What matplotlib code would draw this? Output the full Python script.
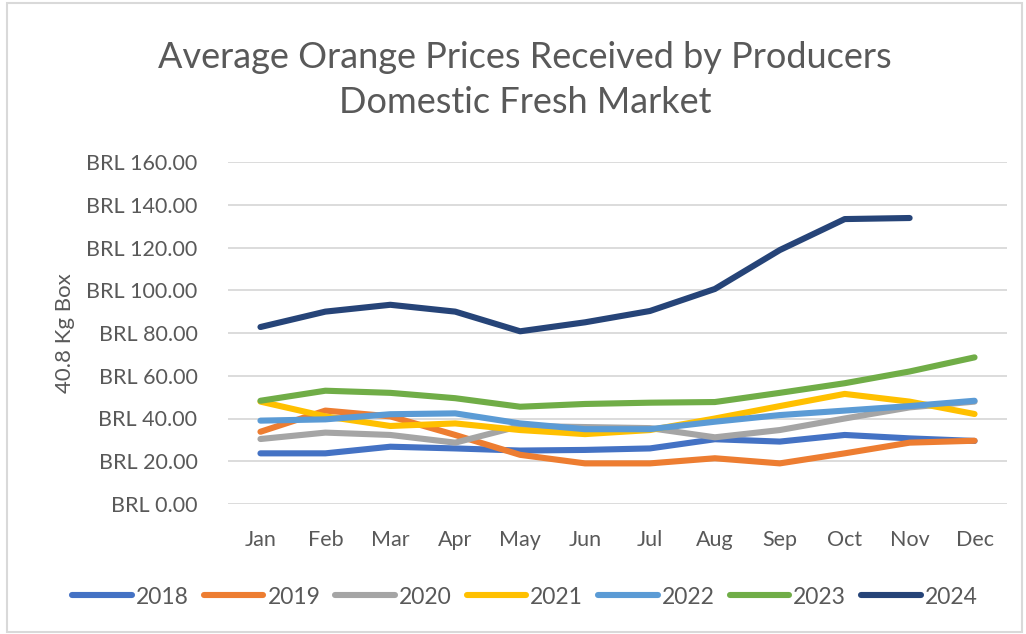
import matplotlib
matplotlib.use("Agg")
import matplotlib.pyplot as plt
from matplotlib.patches import Rectangle

months = ["Jan", "Feb", "Mar", "Apr", "May", "Jun", "Jul", "Aug", "Sep", "Oct", "Nov", "Dec"]
years = ["2018", "2019", "2020", "2021", "2022", "2023", "2024"]

p2018 = [23.7, 23.7, 26.8, 26.0, 25.0, 25.3, 26.0, 30.3, 29.2, 32.3, 30.7, 29.5]
p2019 = [33.8, 43.7, 41.0, 32.3, 23.0, 19.0, 19.0, 21.4, 19.0, 23.7, 28.7, 29.6]
p2020 = [30.4, 33.4, 32.3, 28.7, 36.5, 36.0, 35.5, 31.2, 34.6, 40.0, 45.2, 47.9]
p2021 = [47.9, 41.0, 36.5, 37.7, 34.6, 32.7, 34.6, 40.0, 45.8, 51.5, 47.9, 42.1]
p2022 = [39.0, 39.6, 42.0, 42.4, 37.7, 35.0, 35.0, 38.5, 41.6, 43.7, 45.8, 48.3]
p2023 = [48.3, 53.0, 52.0, 49.5, 45.5, 46.8, 47.4, 47.7, 52.0, 56.5, 62.0, 68.6]
p2024 = [82.8, 90.0, 93.2, 90.0, 80.8, 85.0, 90.3, 100.6, 118.8, 133.3, 133.8, None]

series = [p2018, p2019, p2020, p2021, p2022, p2023, p2024]
colors = ["#4472C4", "#ED7D31", "#A5A5A5", "#FFC000", "#5B9BD5", "#70AD47", "#264478"]

plt.rcParams["font.family"] = ["Lato", "DejaVu Sans"]
txt = "#595959"

fig = plt.figure(figsize=(10.26, 6.34), dpi=100)
W, H = 1026, 634
ax = fig.add_axes([228 / W, 1 - 504 / H, (1007 - 228) / W, (504 - 162) / H])

x = list(range(len(months)))
for name, vals, c in zip(years, series, colors):
    xs = [i for i, v in zip(x, vals) if v is not None]
    ys = [v for v in vals if v is not None]
    ax.plot(xs, ys, color=c, lw=4.4, solid_capstyle="round", solid_joinstyle="round", label=name)

ax.set_xlim(-0.5, 11.5)
ax.set_ylim(0, 160)
ax.set_yticks(range(0, 161, 20))
ax.set_yticklabels([f"BRL {v:.2f}" for v in range(0, 161, 20)])
ax.set_xticks(x)
ax.set_xticklabels(months)
ax.grid(axis="y", color="#D9D9D9", lw=1.3)
ax.set_axisbelow(True)
for s in ax.spines.values():
    s.set_visible(False)
ax.tick_params(axis="both", length=0, labelsize=15.5, colors=txt)
ax.tick_params(axis="y", pad=22)
ax.tick_params(axis="x", pad=19)
ax.set_ylabel("40.8 Kg Box", fontsize=16, color=txt)
ax.yaxis.set_label_coords(-0.196, 0.5)

fig.text(525 / W, 1 - 80 / H, "Average Orange Prices Received by Producers\nDomestic Fresh Market",
         ha="center", va="center", fontsize=26, color=txt, linespacing=1.45)

leg = fig.legend(loc="center", bbox_to_anchor=(525 / W, 1 - 597 / H), ncol=7, frameon=False,
                 fontsize=16.5, handlelength=2.6, handletextpad=0.18, columnspacing=0.65,
                 borderpad=0, borderaxespad=0)
for t in leg.get_texts():
    t.set_color(txt)

fig.patches.append(Rectangle((7 / W, 2 / H), (1022 - 7) / W, (631 - 2) / H, transform=fig.transFigure,
                             fill=False, edgecolor="#D9D9D9", lw=1.5))

fig.savefig("out.png", dpi=100, facecolor="white")
